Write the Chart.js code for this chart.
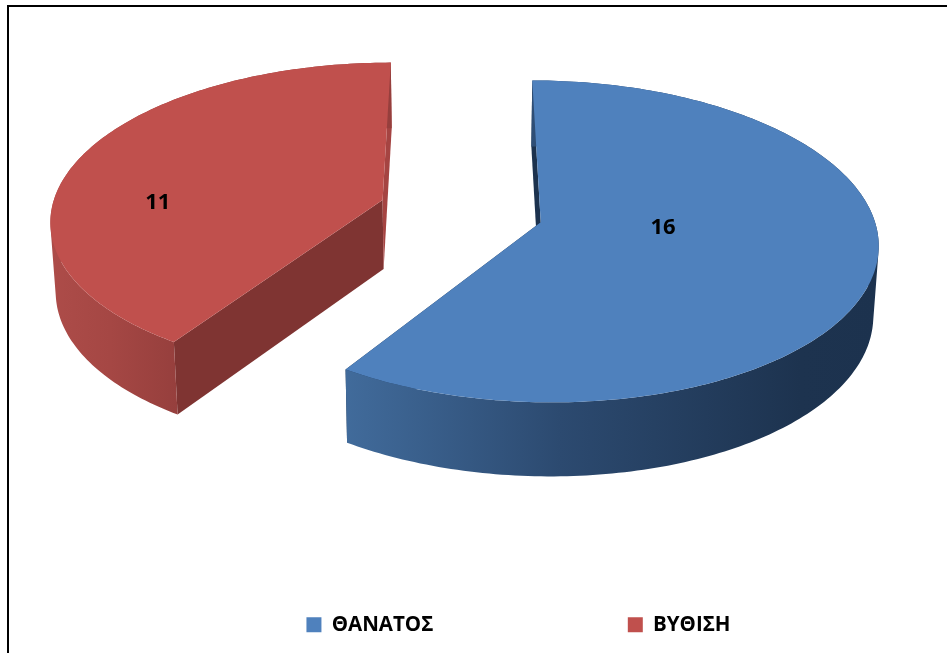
<!DOCTYPE html>
<html>
<head>
<meta charset="utf-8">
<script src="https://cdn.jsdelivr.net/npm/chart.js@4"></script>
<style>
html,body{margin:0;padding:0;background:#fff;overflow:hidden}
#wrap{position:relative;width:947px;height:653px}
</style>
</head>
<body>
<div id="wrap"><canvas id="c" width="947" height="653"></canvas></div>
<script>
const categories = ['ΘΑΝΑΤΟΣ', 'ΒΥΘΙΣΗ'];
const values = [16, 11];
const topColors = ['#4f81bd', '#c0504d'];
const startWallColors = ['#1c324e', '#7f3432'];
const endWallColors = ['#1c324e', '#a54442'];
const rimStops = [
  [[346, '#416b9b'], [560, '#2c4a70'], [800, '#1d334f'], [878, '#1c324e']],
  [[50, '#ad4c49'], [110, '#a54744'], [178, '#963f3d']]
];
const labelAngles = [95.8, 268.3];
const labelRadii = [0.365, 0.682];

const FONT = '"Open Sans", "Noto Sans", sans-serif';
const view = {cx: 461, cy: 211, A: 331.5, B: 156, k: 0.118, explode: 0.249,
              bottomScale: 0.987, bottomA: 64, bottomB: 1.025};

function project(x, y) {
  const w = 1 - view.k * y;
  return [view.cx + view.A * x / w, view.cy + view.B * y / w];
}
function lower(p) {
  return [view.cx + (p[0] - view.cx) * view.bottomScale, view.bottomA + p[1] * view.bottomB];
}
function tracePoly(ctx, pts) {
  pts.forEach((p, i) => i ? ctx.lineTo(p[0], p[1]) : ctx.moveTo(p[0], p[1]));
  ctx.closePath();
}
function poly(ctx, pts, fill) {
  ctx.beginPath();
  tracePoly(ctx, pts);
  ctx.fillStyle = fill;
  ctx.fill();
}
function area(q) {
  let s = 0;
  q.forEach((p, i) => { const r = q[(i + 1) % q.length]; s += p[0] * r[1] - r[0] * p[1]; });
  return s;
}

const pie3d = {
  id: 'pie3d',
  beforeDraw(chart) {
    const ctx = chart.ctx;
    ctx.save();
    ctx.fillStyle = '#000';
    ctx.fillRect(7, 5, 2, 648);
    ctx.fillRect(7, 5, 940, 2);
    ctx.restore();
  },
  afterLayout(chart) {
    const lg = chart.legend;
    lg.left += 45; lg.right += 45;
    lg.top -= 8; lg.bottom -= 8;
  },
  beforeDatasetDraw(chart, args) {
    const ctx = chart.ctx;
    const arcs = args.meta.data;
    ctx.save();
    arcs.forEach((arc, i) => {
      const s = arc.startAngle + Math.PI / 2, e = arc.endAngle + Math.PI / 2;
      const mid = (s + e) / 2;
      const x0 = view.explode * Math.sin(mid), y0 = -view.explode * Math.cos(mid);
      const apex = project(x0, y0);
      const rimPts = [];
      const n = Math.ceil((e - s) * 180 / Math.PI);
      for (let j = 0; j <= n; j++) {
        const t = s + (e - s) * j / n;
        rimPts.push(project(x0 + Math.sin(t), y0 - Math.cos(t)));
      }
      const first = rimPts[0], last = rimPts[rimPts.length - 1];
      poly(ctx, [apex, first, lower(first), lower(apex)], startWallColors[i]);
      poly(ctx, [apex, last, lower(last), lower(apex)], endWallColors[i]);
      const a = rimStops[i][0][0], b = rimStops[i][rimStops[i].length - 1][0];
      const g = ctx.createLinearGradient(a, 0, b, 0);
      rimStops[i].forEach(st => g.addColorStop((st[0] - a) / (b - a), st[1]));
      ctx.beginPath();
      for (let j = 0; j < rimPts.length - 1; j++) {
        let q = [rimPts[j], rimPts[j + 1], lower(rimPts[j + 1]), lower(rimPts[j])];
        if (area(q) < 0) q = q.reverse();
        tracePoly(ctx, q);
      }
      ctx.fillStyle = g;
      ctx.fill('nonzero');
      poly(ctx, [apex].concat(rimPts), topColors[i]);
    });
    ctx.fillStyle = '#000';
    ctx.font = 'bold 22px ' + FONT;
    ctx.textAlign = 'center';
    ctx.textBaseline = 'middle';
    arcs.forEach((arc, i) => {
      const mid = (arc.startAngle + arc.endAngle) / 2 + Math.PI / 2;
      const x0 = view.explode * Math.sin(mid), y0 = -view.explode * Math.cos(mid);
      const t = labelAngles[i] * Math.PI / 180;
      const p = project(x0 + labelRadii[i] * Math.sin(t), y0 - labelRadii[i] * Math.cos(t));
      ctx.fillText(String(values[i]), p[0], p[1]);
    });
    ctx.restore();
    return false;
  }
};

new Chart(document.getElementById('c'), {
  type: 'pie',
  data: {
    labels: categories,
    datasets: [{data: values, backgroundColor: topColors, borderWidth: 0}]
  },
  options: {
    responsive: false,
    animation: false,
    layout: {padding: 0},
    plugins: {
      tooltip: {enabled: false},
      title: {display: false},
      legend: {
        position: 'bottom',
        labels: {
          boxWidth: 15, boxHeight: 15, padding: 194.5,
          color: '#000',
          font: {family: FONT, size: 20.5, weight: 'bold'}
        }
      }
    }
  },
  plugins: [pie3d]
});
</script>
</body>
</html>
